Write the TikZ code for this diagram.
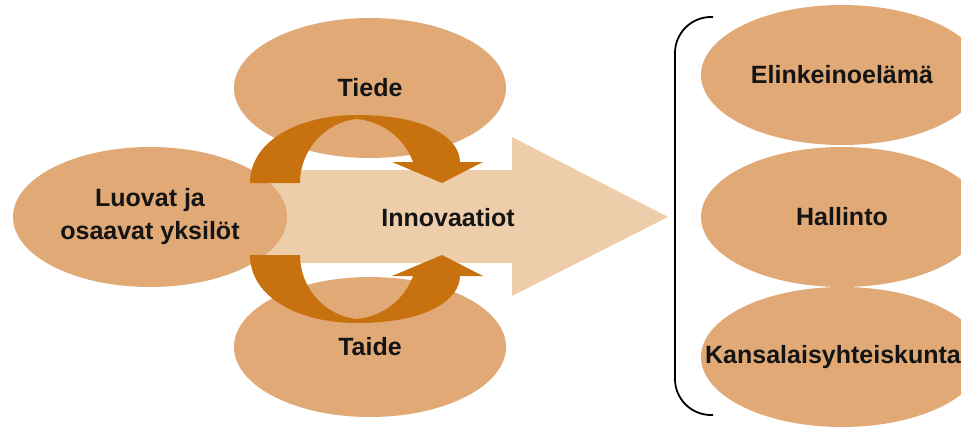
\documentclass[tikz,border=0pt]{standalone}
\usepackage{fontspec}
\setmainfont{Liberation Sans}
\usetikzlibrary{shapes.geometric}
\definecolor{tanfill}{RGB}{224,169,118}
\definecolor{lightarrow}{RGB}{238,206,170}
\definecolor{darkarrow}{RGB}{200,113,15}
\definecolor{txt}{RGB}{20,20,20}
\tikzset{
  ell/.style={ellipse, fill=tanfill, inner sep=0pt, minimum width=272pt, minimum height=140pt,
    font=\fontsize{25}{33}\selectfont\bfseries, text=txt, align=center},
  rell/.style={ell, minimum width=282pt},
  label text/.style={font=\fontsize{25}{33}\selectfont\bfseries, text=txt, inner sep=0pt},
  bigarrow/.style={fill=lightarrow},
  curvearrow/.style={fill=darkarrow},
  bracketline/.style={draw=black, line width=1.8pt, rounded corners=36pt}
}
\begin{document}
\begin{tikzpicture}[x=1pt,y=-1pt]
\useasboundingbox (0,0) rectangle (961,428);
\clip (0,0) rectangle (961,428);
% upper and lower source ellipses
\node[ell] (tiede) at (370,88) {Tiede};
\node[ell] (taide) at (370,347) {Taide};
% main arrow
\path[bigarrow] (200,170) -- (512,170) -- (512,137) -- (668,217) -- (512,296) -- (512,263) -- (200,263) -- cycle;
\node[label text] (innov) at (448,218) {Innovaatiot};
% left ellipse
\node[ell, minimum width=274pt] (luovat) at (150,217) {Luovat ja\\osaavat yksilöt};
% curved arrows
\path[curvearrow] (250,183) .. controls (250,140) and (300,115) .. (357,115)
  .. controls (430,115) and (460,140) .. (460,162) -- (483,162) -- (442,183) -- (392,162) -- (413,162)
  .. controls (405,140) and (385,122) .. (357,119)
  .. controls (325,122) and (300,150) .. (300,183) -- cycle;
\path[curvearrow] (250,255) .. controls (250,298) and (300,323) .. (357,323)
  .. controls (430,323) and (460,298) .. (460,276) -- (483,276) -- (442,255) -- (392,276) -- (413,276)
  .. controls (405,298) and (385,316) .. (357,319)
  .. controls (325,316) and (300,288) .. (300,255) -- cycle;
% right ellipses
\node[rell] (elink) at (842,75) {Elinkeinoelämä};
\node[rell] (hall) at (842,217) {Hallinto};
\node[rell] (kans) at (842,357) {};
\node[label text] (kanst) at (833,357) {Kansalaisyhteiskunta};
% bracket
\coordinate (bt) at (713,17);
\coordinate (bb) at (713,415);
\draw[bracketline] (bt) -- (675,17) -- (675,415) -- (bb);
\end{tikzpicture}
\end{document}
